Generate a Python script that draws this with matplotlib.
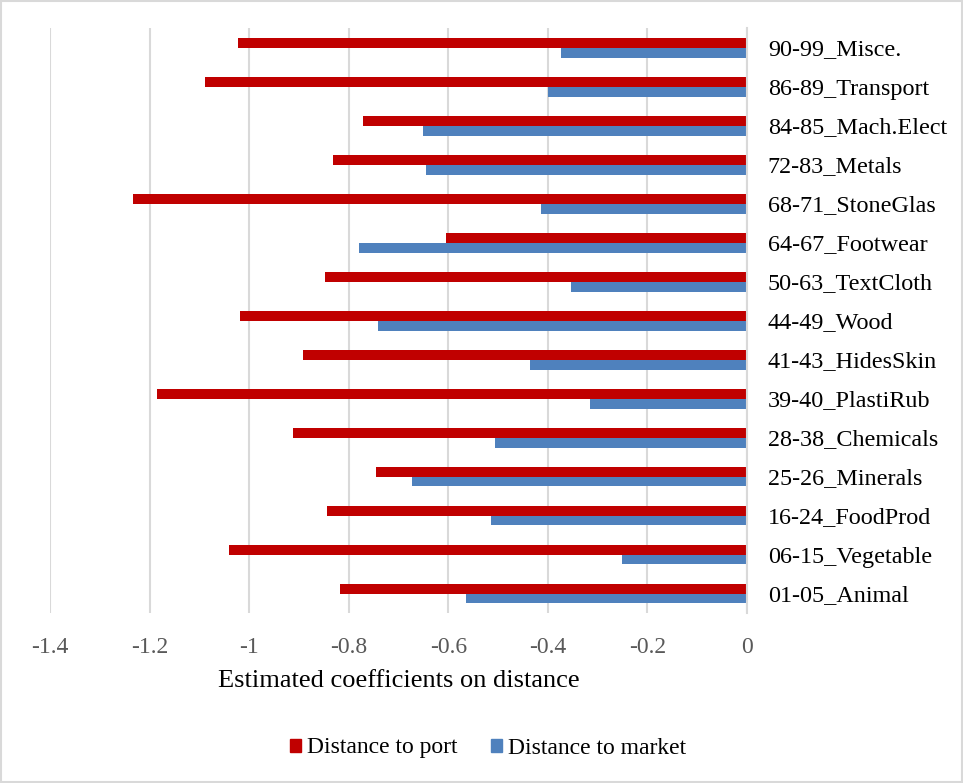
import matplotlib.pyplot as plt
from matplotlib.patches import Patch, Rectangle
import numpy as np

# HS sections, bottom to top
categories = ['01-05_Animal', '06-15_Vegetable', '16-24_FoodProd', '25-26_Minerals',
              '28-38_Chemicals', '39-40_PlastiRub', '41-43_HidesSkin', '44-49_Wood',
              '50-63_TextCloth', '64-67_Footwear', '68-71_StoneGlas', '72-83_Metals',
              '84-85_Mach.Elect', '86-89_Transport', '90-99_Misce.']

dist_port = [-0.817, -1.040, -0.844, -0.745, -0.912, -1.185, -0.892, -1.018,
             -0.848, -0.605, -1.233, -0.832, -0.771, -1.089, -1.022]
dist_market = [-0.564, -0.251, -0.514, -0.673, -0.506, -0.315, -0.436, -0.741,
               -0.354, -0.779, -0.414, -0.645, -0.651, -0.400, -0.374]

x_ticks = [-1.4, -1.2, -1, -0.8, -0.6, -0.4, -0.2, 0]
x_tick_labels = ['-1.4', '-1.2', '-1', '-0.8', '-0.6', '-0.4', '-0.2', '0']

RED = '#C00000'
BLUE = '#4F81BD'
GRID = '#D9D9D9'

plt.rcParams['font.family'] = ['Liberation Serif', 'DejaVu Serif']

fig = plt.figure(figsize=(9.63, 7.83), dpi=100)
ax = fig.add_axes([0.0519, 0.2171, 0.7238, 0.7471])

y = np.arange(len(categories))
h = 0.256
ax.barh(y + h / 2, dist_port, height=h, color=RED, zorder=3)
ax.barh(y - h / 2, dist_market, height=h, color=BLUE, zorder=3)

ax.set_xlim(-1.4, 0)
ax.set_ylim(-0.5, len(categories) - 0.5)
ax.set_xticks(x_ticks)
ax.set_xticklabels(x_tick_labels, fontsize=17, color='#595959')
ax.tick_params(axis='x', length=0, pad=17)

# category labels sit to the right of the zero line
ax.yaxis.tick_right()
ax.set_yticks(y)
ax.set_yticklabels(categories, fontsize=17.4, color='#000000')
ax.tick_params(axis='y', length=0, pad=15)

ax.grid(axis='x', color=GRID, linewidth=1.5, zorder=0)
for side in ['top', 'left', 'bottom']:
    ax.spines[side].set_visible(False)
ax.spines['right'].set_color(GRID)
ax.spines['right'].set_linewidth(1.5)
ax.spines['right'].set_zorder(4)

ax.set_xlabel('Estimated coefficients on distance', fontsize=19, labelpad=9)

handles = [Patch(color=RED, label='Distance to port'),
           Patch(color=BLUE, label='Distance to market')]
fig.legend(handles=handles, loc='center', bbox_to_anchor=(0.507, 1 - 748 / 783),
           ncol=2, frameon=False, fontsize=17, handlelength=0.47, handleheight=0.47,
           handletextpad=0.25, columnspacing=1.4, borderpad=0)

# thin outer border
fig.patches.append(Rectangle((0.001, 0.001), 0.998, 0.998, transform=fig.transFigure,
                             fill=False, edgecolor=GRID, linewidth=1.5))

fig.savefig('out.png', dpi=100)
